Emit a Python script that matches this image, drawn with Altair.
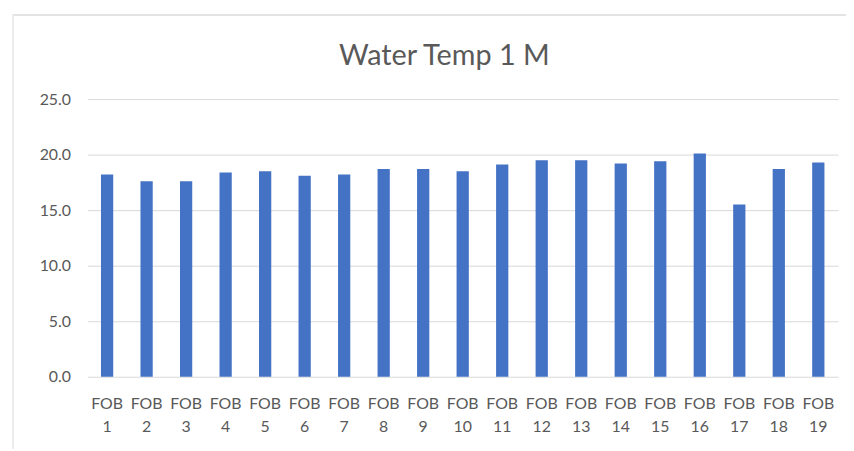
import altair as alt
import pandas as pd

categories = [f"FOB {i}" for i in range(1, 20)]
values = [18.2, 17.6, 17.6, 18.4, 18.5, 18.1, 18.2, 18.7, 18.7, 18.5,
          19.1, 19.5, 19.5, 19.2, 19.4, 20.1, 15.5, 18.7, 19.3]
y_ticks = [0, 5, 10, 15, 20, 25]
title_text = "Water Temp 1 M"

df = pd.DataFrame({"site": categories, "temp": values})

FONT = "Lato"
GREY = "#595959"

bars = alt.Chart(df).mark_bar(color="#4472C4").encode(
    x=alt.X("site:N", sort=categories, title=None,
            scale=alt.Scale(paddingInner=0.69, paddingOuter=0.345),
            axis=alt.Axis(labelExpr="split(datum.label, ' ')", labelAngle=0,
                          labelLineHeight=23, labelPadding=19, ticks=False,
                          domain=False, labelFont=FONT, labelFontSize=16,
                          labelColor=GREY)),
    y=alt.Y("temp:Q", title=None,
            scale=alt.Scale(domain=[0, 25], nice=False),
            axis=alt.Axis(values=y_ticks, format=".1f", ticks=False, domain=False,
                          labelFont=FONT, labelFontSize=16, labelColor=GREY,
                          labelPadding=17, gridColor="#d9d9d9", gridWidth=1)),
)

# faint frame lines of the original chart border
frame_h = alt.Chart(df).mark_rule(color="#e3e3e3", strokeWidth=1.5).encode(
    x=alt.value(-75), x2=alt.value(765), y=alt.value(-85))
frame_v = alt.Chart(df).mark_rule(color="#ececec", strokeWidth=1.5).encode(
    x=alt.value(-75), y=alt.value(-85), y2=alt.value(352))

title = alt.Chart(pd.DataFrame({"t": [title_text]})).mark_text(
    font=FONT, fontSize=29, color=GREY, align="center", baseline="alphabetic"
).encode(text="t:N", x=alt.value(360), y=alt.value(-34))

chart = alt.layer(frame_h, frame_v, bars, title).properties(
    width=757, height=280,
    padding={"left": 80, "top": 90, "right": 8, "bottom": 72},
    autosize=alt.AutoSizeParams(type="none"),
).configure_view(stroke=None)

chart.save("out.html", embed_options={"renderer": "svg", "actions": False})
